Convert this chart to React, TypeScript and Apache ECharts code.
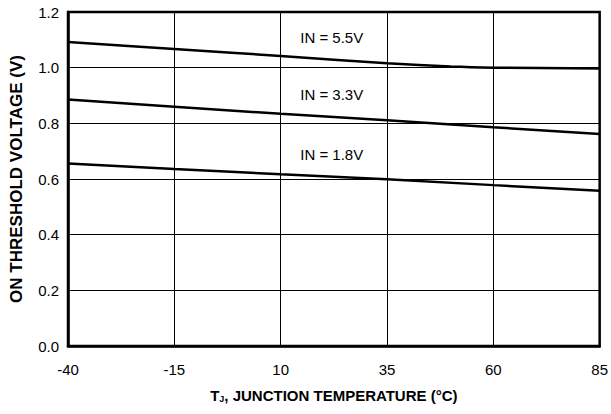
import React, { useEffect, useRef } from "react";
import * as echarts from "echarts";

const xTicks = [-40, -15, 10, 35, 60, 85];
const temps55 = [-40, -15, 10, 35, 50, 60, 85];
const vals55 = [1.092, 1.067, 1.042, 1.016, 1.004, 1.0, 0.997];
const temps33 = [-40, -15, 10, 35, 60, 85];
const vals33 = [0.886, 0.86, 0.834, 0.811, 0.786, 0.762];
const temps18 = [-40, -15, 10, 35, 60, 85];
const vals18 = [0.656, 0.636, 0.617, 0.599, 0.578, 0.558];
const seriesLabels = ["IN = 5.5V", "IN = 3.3V", "IN = 1.8V"];
const labelTemps = [22, 22, 22];
const labelVals = [1.108, 0.904, 0.688];

const FONT = "'Liberation Sans', Arial, Helvetica, sans-serif";

export default function App() {
  const ref = useRef<HTMLDivElement>(null);
  useEffect(() => {
    const chart = echarts.init(ref.current!, null, { renderer: "svg" });
    const mk = (t: number[], v: number[]) => t.map((x, i) => [x, v[i]]);
    const datasets = [mk(temps55, vals55), mk(temps33, vals33), mk(temps18, vals18)];
    chart.setOption({
      animation: false,
      backgroundColor: "#fff",
      grid: {
        left: 66,
        right: 11,
        top: 12,
        bottom: 68,
        show: true,
        borderColor: "#000",
        borderWidth: 2.5,
        backgroundColor: "transparent",
      },
      xAxis: {
        type: "value",
        min: -40,
        max: 85,
        axisLine: { show: true, onZero: false, lineStyle: { color: "#000", width: 2.5 } },
        axisTick: { show: false, customValues: xTicks },
        axisLabel: {
          customValues: xTicks,
          color: "#000",
          fontFamily: FONT,
          fontSize: 15,
          margin: 16,
        },
        splitLine: { show: true, lineStyle: { color: "#000", width: 1 } },
        name: "{a|T}{s|J}{a|, JUNCTION TEMPERATURE (°C)}",
        nameLocation: "middle",
        nameGap: 42,
        nameTextStyle: {
          rich: {
            a: { fontFamily: FONT, fontWeight: "bold", fontSize: 15, color: "#000" },
            s: { fontFamily: FONT, fontWeight: "bold", fontSize: 9, color: "#000", verticalAlign: "bottom", padding: [6, 0, 0, 0] },
          },
        },
      },
      yAxis: {
        type: "value",
        min: 0,
        max: 1.2,
        interval: 0.2,
        axisLine: { show: true, onZero: false, lineStyle: { color: "#000", width: 2.5 } },
        axisTick: { show: false },
        axisLabel: {
          color: "#000",
          fontFamily: FONT,
          fontSize: 15,
          margin: 9,
          formatter: (v: number) => v.toFixed(1),
        },
        splitLine: { show: true, lineStyle: { color: "#000", width: 1 } },
        name: "ON THRESHOLD VOLTAGE (V)",
        nameLocation: "middle",
        nameGap: 43,
        nameTextStyle: { fontFamily: FONT, fontWeight: "bold", fontSize: 17, color: "#000" },
      },
      series: datasets.map((d, i) => ({
        type: "line",
        data: d,
        smooth: i === 0 ? 0.3 : false,
        symbol: "none",
        lineStyle: { color: "#000", width: 2.5 },
        markPoint: {
          symbol: "rect",
          symbolSize: 1,
          itemStyle: { color: "transparent" },
          label: {
            show: true,
            position: "inside",
            formatter: seriesLabels[i],
            color: "#000",
            fontFamily: FONT,
            fontSize: 15,
          },
          data: [{ coord: [labelTemps[i], labelVals[i]] }],
        },
      })),
    });
    return () => chart.dispose();
  }, []);
  return (
    <div
      ref={ref}
      style={{ position: "fixed", left: 0, top: 0, width: 611, height: 414, background: "#fff" }}
    />
  );
}
